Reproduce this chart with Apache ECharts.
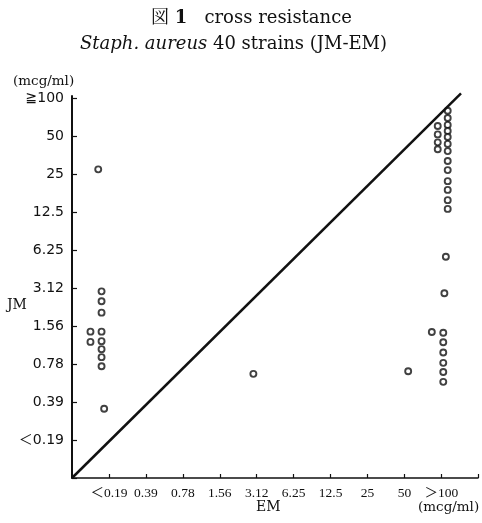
<!DOCTYPE html>
<html><head><meta charset="utf-8">
<script src="https://cdn.jsdelivr.net/npm/echarts@6/dist/echarts.min.js"></script>
<style>html,body{margin:0;padding:0;background:#fff}#c{width:482px;height:523px}</style>
</head><body><div id="c"></div>
<script>
// tick labels (dilution steps, index 0 = origin)
const xLabels = ['', '＜0.19', '0.39', '0.78', '1.56', '3.12', '6.25', '12.5', '25', '50', '＞100'];
const yLabels = ['', '＜0.19', '0.39', '0.78', '1.56', '3.12', '6.25', '12.5', '25', '50', '≧100'];

// 40 strains, positions in dilution steps as plotted (EM on x, JM on y)
const strainEM = [
  0.71,
  0.80, 0.80, 0.80, 0.80, 0.80, 0.80, 0.80, 0.80,
  0.50, 0.50,
  0.87,
  4.91,
  9.10,
  9.74,
  10.05, 10.05, 10.05, 10.05, 10.05, 10.05,
  10.08, 10.12,
  10.17, 10.17, 10.17, 10.17, 10.17, 10.17, 10.17, 10.17, 10.17, 10.17, 10.17, 10.17, 10.17,
  9.90, 9.90, 9.90, 9.90
];
const strainJM = [
  8.12,
  4.91, 4.65, 4.35, 3.85, 3.60, 3.39, 3.18, 2.94,
  3.85, 3.58,
  1.82,
  2.74,
  2.81,
  3.84,
  3.82, 3.57, 3.30, 3.03, 2.79, 2.53,
  4.86, 5.82,
  9.66, 9.47, 9.29, 9.13, 8.97, 8.79, 8.60, 8.34, 8.10, 7.81, 7.58, 7.31, 7.08,
  9.26, 9.04, 8.83, 8.65
];

// diagonal reference line (EM = JM)
const diagonalEM = [0, 10.53];
const diagonalJM = [0, 10.12];

const chart = echarts.init(document.getElementById('c'), null, {renderer: 'canvas'});
const serif = "'DejaVu Serif', 'Noto Serif CJK JP', 'Noto Sans CJK JP', serif";
const ink = '#111';

chart.setOption({
  animation: false,
  backgroundColor: '#fff',
  title: [
    {
      text: '図 {b|1}   cross resistance',
      left: 146, top: 4,
      textStyle: {fontFamily: serif, fontSize: 18, fontWeight: 'normal', color: ink,
        rich: {b: {fontFamily: serif, fontSize: 18, fontWeight: 'bold', color: ink}}}
    },
    {
      text: '{i|Staph. aureus} 40 strains (JM-EM)',
      left: 75, top: 30,
      textStyle: {fontFamily: serif, fontSize: 18, fontWeight: 'normal', color: ink,
        rich: {i: {fontFamily: serif, fontSize: 18, fontStyle: 'italic', color: ink}}}
    }
  ],
  grid: {left: 72, right: 4, top: 96, bottom: 45},
  xAxis: {
    type: 'value', min: 0, max: 10.99, interval: 1,
    axisLine: {show: true, lineStyle: {color: ink, width: 1.5}},
    axisTick: {show: true, inside: true, length: 4, lineStyle: {color: ink, width: 1.2}},
    splitLine: {show: false},
    axisLabel: {
      margin: 9, color: ink, fontFamily: "'Liberation Serif', 'Noto Sans CJK JP', serif", fontSize: 13.5,
      formatter: v => xLabels[Math.round(v)] || ''
    }
  },
  yAxis: {
    type: 'value', min: 0, max: 10.05, interval: 1,
    axisLine: {show: true, lineStyle: {color: ink, width: 2}},
    axisTick: {show: true, inside: true, length: 5, lineStyle: {color: ink, width: 1.2}},
    splitLine: {show: false},
    axisLabel: {
      margin: 8, color: ink, fontFamily: "'DejaVu Sans', 'Noto Sans CJK JP', sans-serif", fontSize: 14,
      formatter: v => yLabels[Math.round(v)] || ''
    }
  },
  graphic: [
    {type: 'text', left: 13, top: 74, style: {text: '(mcg/ml)', font: "13.5px 'DejaVu Serif'", fill: ink}},
    {type: 'text', left: 7, top: 298, style: {text: 'JM', font: "14px 'DejaVu Serif'", fill: ink}},
    {type: 'text', left: 256, top: 500, style: {text: 'EM', font: "14px 'DejaVu Serif'", fill: ink}},
    {type: 'text', left: 418, top: 500, style: {text: '(mcg/ml)', font: "13.5px 'DejaVu Serif'", fill: ink}}
  ],
  series: [
    {
      type: 'line',
      data: diagonalEM.map((x, i) => [x, diagonalJM[i]]),
      clip: false, symbol: 'none', silent: true,
      lineStyle: {color: ink, width: 2.5}
    },
    {
      type: 'scatter',
      data: strainEM.map((x, i) => [x, strainJM[i]]),
      clip: false,
      symbol: 'circle', symbolSize: 6,
      itemStyle: {color: '#fff', borderColor: ink, borderWidth: 1.9}
    }
  ]
});
</script>
</body></html>
